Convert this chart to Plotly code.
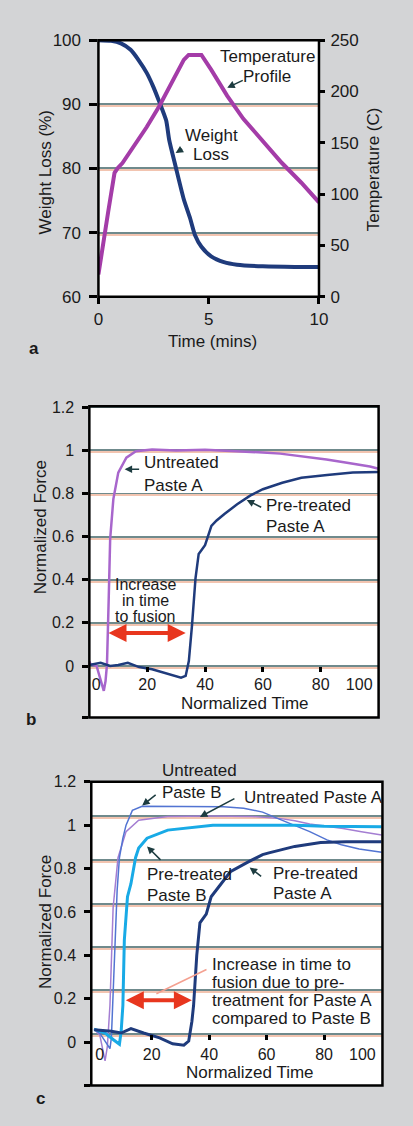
import plotly.graph_objects as go

# ---------------- data ----------------
# panel a
wl_time = [0, 0.58, 1.02, 1.46, 1.82, 2.19, 2.48, 2.77, 3.07, 3.21, 3.5, 3.87, 4.16, 4.38, 4.67, 5.11, 5.69, 6.28, 7.45, 8.9, 10]
wl_value = [100, 99.9, 99.5, 98.5, 96.9, 94.9, 92.8, 90.3, 87.5, 84.4, 80.3, 75.2, 72.2, 69.6, 67.8, 66.3, 65.4, 65.0, 64.75, 64.65, 64.65]
temp_time = [0, 0.15, 0.44, 0.73, 0.88, 1.09, 1.61, 2.19, 2.77, 3.36, 3.87, 4.09, 4.67, 5.11, 5.84, 6.57, 7.45, 8.32, 9.2, 10]
temp_value = [21.7, 44.1, 82.4, 120.7, 125.5, 130.3, 146.2, 165.4, 186.1, 210.1, 230.8, 235.6, 235.6, 221.3, 195.7, 173.4, 151.0, 130.3, 111.1, 92.0]
a_left_ticks = [60, 70, 80, 90, 100]
a_right_ticks = [0, 50, 100, 150, 200, 250]
a_x_ticks = [0, 5, 10]

# panel b
b_untreated_A_t = [0, 0.5, 2.5, 3.8, 5.0, 5.6, 6.1, 6.7, 7.2, 8.3, 10, 12.8, 16.1, 21.7, 30, 40, 50, 60, 66, 71, 76, 82, 88, 93, 97, 100]
b_untreated_A_v = [0.02, 0.007, 0.0, -0.06, -0.115, -0.07, 0.007, 0.314, 0.59, 0.774, 0.897, 0.966, 0.996, 1.004, 1.0, 1.003, 0.998, 0.99, 0.985, 0.977, 0.968, 0.958, 0.945, 0.935, 0.925, 0.915]
b_pretreated_A_t = [0, 3.9, 7.2, 10, 13.3, 17.2, 21.7, 27.2, 31.7, 33.3, 34.4, 35.5, 36.7, 37.8, 40, 42.2, 44, 46.7, 51.1, 55.6, 60, 66.7, 73.3, 82.2, 91.1, 100]
b_pretreated_A_v = [0.005, 0.015, 0.0, 0.005, 0.015, -0.005, -0.015, -0.038, -0.054, -0.046, 0.023, 0.19, 0.406, 0.52, 0.56, 0.65, 0.675, 0.705, 0.75, 0.79, 0.82, 0.85, 0.873, 0.886, 0.897, 0.9]

# panel c
c_untreated_B_t = [0, 2, 3.5, 5.5, 6.0, 6.6, 7.2, 8.0, 8.8, 10, 11.1, 13.3, 16.7, 25, 35, 45, 52, 58.6, 64, 69.8, 75, 81, 86, 92.2, 100]
c_untreated_B_v = [0.06, 0.04, 0.01, -0.03, 0.02, 0.25, 0.47, 0.7, 0.85, 0.94, 1.0, 1.068, 1.087, 1.087, 1.087, 1.085, 1.078, 1.06, 1.03, 1.0, 0.97, 0.932, 0.91, 0.89, 0.875]
c_untreated_A_t = [0, 2, 3.8, 4.6, 5.5, 6.6, 8.3, 11.1, 15.5, 25.6, 40, 55, 65, 69.8, 75, 81, 86.6, 93, 100]
c_untreated_A_v = [0.06, 0.03, -0.086, -0.02, 0.17, 0.62, 0.85, 0.97, 1.023, 1.04, 1.042, 1.04, 1.03, 1.02, 1.005, 0.995, 0.985, 0.97, 0.955]
c_pretreated_B_t = [0, 3.8, 6.6, 8.8, 9.4, 10, 10.5, 11.6, 12.8, 14.4, 15.5, 18.4, 25.6, 34.6, 41.3, 50, 60, 70, 80, 90, 100]
c_pretreated_B_v = [0.06, 0.042, 0.012, -0.01, 0.05, 0.17, 0.47, 0.67, 0.73, 0.85, 0.895, 0.94, 0.977, 0.992, 1.0, 1.0, 1.0, 1.0, 0.995, 0.995, 0.992]
c_pretreated_A_t = [0, 6, 9.4, 12.8, 17.2, 22.8, 27.3, 31.2, 32.9, 34, 34.6, 35.7, 36.8, 39, 40.7, 47.4, 54.1, 58.6, 60.8, 69.8, 78.8, 87.7, 100]
c_pretreated_A_v = [0.057, 0.05, 0.042, 0.062, 0.042, 0.02, -0.008, -0.014, 0.005, 0.095, 0.17, 0.40, 0.55, 0.59, 0.67, 0.785, 0.834, 0.864, 0.872, 0.902, 0.92, 0.924, 0.924]

force_ticks = [0, 0.2, 0.4, 0.6, 0.8, 1.0, 1.2]
force_labels = ["0", "0.2", "0.4", "0.6", "0.8", "1", "1.2"]
time_ticks = [20, 40, 60, 80]
time_labels = ["0", "20", "40", "60", "80", "100"]
c_grid = [0.038, 0.238, 0.438, 0.638, 0.838, 1.04]

# ---------------- styling ----------------
W, H = 413, 1126
FONT = "Liberation Sans, Arial, sans-serif"
TXT = "#1a1a1a"
GRID = "#6f8a8c"
FRINGE = "#f2c4b0"
NAVY = "#1f3b7c"
MAGENTA = "#a43ca8"
LILAC = "#a866cc"
CYAN = "#18aae6"
BLUE = "#5274d2"
PURPLE_T = "#a47ed2"
RED = "#e8361e"
ARW = "#1d3c40"

def X(p):
    return p / W

def Y(p):
    return 1 - p / H

dom_a_x = [X(96.7), X(325)]
dom_a_y = [Y(292.7), Y(31.7)]
dom_b_x = [X(87.3), X(386.7)]
dom_b_y = [Y(720.7), Y(404)]
dom_c_x = [X(89.3), X(390.7)]
dom_c_y = [Y(1095), Y(786)]

rng_a_y = [60, 100]
rng_b_y = [-0.239, 1.205]
rng_c_y = [-0.2, 1.2]
rng_b_x = [0, 100]
rng_c_x = [-1, 100.3]

def pos_of(val, dom, rng):
    return dom[0] + (val - rng[0]) / (rng[1] - rng[0]) * (dom[1] - dom[0])

def px_to_units(px, dom, rng):
    return px / ((dom[1] - dom[0]) * H) * (rng[1] - rng[0])

b_xpos = pos_of(0, dom_b_y, rng_b_y)
c_xpos = pos_of(0.038, dom_c_y, rng_c_y)

# fringe (mis-registered print) lines just under each inner gridline
fa = px_to_units(2, dom_a_y, rng_a_y)
fb = px_to_units(2, dom_b_y, rng_b_y)
fc = px_to_units(2, dom_c_y, rng_c_y)

fig = go.Figure()

def ghost(xa, ya):
    fig.add_trace(go.Scatter(x=[None], y=[None], xaxis=xa, yaxis=ya, showlegend=False, hoverinfo="skip"))

ghost("x", "y7")
ghost("x3", "y8")
ghost("x5", "y9")
ghost("x5", "y6")

# panel a
fig.add_trace(go.Scatter(x=wl_time, y=wl_value, mode="lines", line=dict(color=NAVY, width=4, shape="spline", smoothing=0.6),
                         xaxis="x", yaxis="y", showlegend=False, hoverinfo="skip"))
fig.add_trace(go.Scatter(x=temp_time, y=temp_value, mode="lines", line=dict(color=MAGENTA, width=4),
                         xaxis="x", yaxis="y2", showlegend=False, hoverinfo="skip"))
# panel b
fig.add_trace(go.Scatter(x=b_untreated_A_t, y=b_untreated_A_v, mode="lines", line=dict(color=LILAC, width=2.5),
                         xaxis="x3", yaxis="y3", showlegend=False, hoverinfo="skip"))
fig.add_trace(go.Scatter(x=b_pretreated_A_t, y=b_pretreated_A_v, mode="lines", line=dict(color=NAVY, width=2.5),
                         xaxis="x3", yaxis="y3", showlegend=False, hoverinfo="skip"))
ghost("x4", "y3")
# panel c
fig.add_trace(go.Scatter(x=c_untreated_A_t, y=c_untreated_A_v, mode="lines", line=dict(color=PURPLE_T, width=1.5),
                         xaxis="x5", yaxis="y5", showlegend=False, hoverinfo="skip"))
fig.add_trace(go.Scatter(x=c_untreated_B_t, y=c_untreated_B_v, mode="lines", line=dict(color=BLUE, width=1.5),
                         xaxis="x5", yaxis="y5", showlegend=False, hoverinfo="skip"))
fig.add_trace(go.Scatter(x=c_pretreated_B_t, y=c_pretreated_B_v, mode="lines", line=dict(color=CYAN, width=3),
                         xaxis="x5", yaxis="y5", showlegend=False, hoverinfo="skip"))
fig.add_trace(go.Scatter(x=c_pretreated_A_t, y=c_pretreated_A_v, mode="lines", line=dict(color=NAVY, width=3),
                         xaxis="x5", yaxis="y5", showlegend=False, hoverinfo="skip"))
ghost("x6", "y5")

tickcommon = dict(ticks="outside", tickcolor="black", tickwidth=2.5, showline=False, zeroline=False)
gridonly = dict(showticklabels=False, ticks="", showgrid=True, zeroline=False, showline=False)

layout = dict(
    width=W, height=H, margin=dict(l=0, r=0, t=0, b=0),
    paper_bgcolor="#d3d4d6", plot_bgcolor="#ffffff",
    font=dict(family=FONT, color=TXT, size=16),
    showlegend=False,
    # panel a
    xaxis=dict(domain=dom_a_x, range=[0, 10], anchor="y", tickvals=a_x_ticks, ticklen=6, showgrid=False,
               tickfont=dict(size=17), ticklabelstandoff=1, **tickcommon),
    yaxis=dict(domain=dom_a_y, range=rng_a_y, anchor="x", tickvals=a_left_ticks, ticklen=8, showgrid=True,
               gridcolor=GRID, gridwidth=2, tickfont=dict(size=17), ticklabelstandoff=5, **tickcommon),
    yaxis2=dict(range=[0, 250], overlaying="y", side="right", anchor="x", tickvals=a_right_ticks, ticklen=5,
                showgrid=False, tickfont=dict(size=17), ticklabelstandoff=2, **tickcommon),
    yaxis7=dict(range=rng_a_y, overlaying="y", anchor="x", tickvals=[v - fa for v in a_left_ticks[1:-1]],
                gridcolor=FRINGE, gridwidth=1.5, **gridonly),
    # panel b
    xaxis3=dict(domain=dom_b_x, range=rng_b_x, anchor="free", position=b_xpos, tickvals=time_ticks, ticklen=5,
                showticklabels=False, showgrid=False, **tickcommon),
    xaxis4=dict(range=rng_b_x, overlaying="x3", anchor="free", position=b_xpos,
                tickvals=[2.4, 20, 40, 60, 80, 93.3], ticktext=time_labels, ticks="", ticklabelstandoff=7,
                showgrid=False, showline=False, zeroline=False, tickfont=dict(size=16)),
    yaxis3=dict(domain=dom_b_y, range=rng_b_y, anchor="x3", tickvals=[rng_b_y[0]] + force_ticks,
                ticktext=[""] + force_labels, ticklen=6, showgrid=True, gridcolor=GRID, gridwidth=2,
                tickfont=dict(size=16), ticklabelstandoff=5, **tickcommon),
    yaxis8=dict(range=rng_b_y, overlaying="y3", anchor="x3", tickvals=[v - fb for v in force_ticks[:-1]],
                gridcolor=FRINGE, gridwidth=1.5, **gridonly),
    # panel c
    xaxis5=dict(domain=dom_c_x, range=rng_c_x, anchor="free", position=c_xpos, tickvals=time_ticks, ticklen=5,
                showticklabels=False, showgrid=False, **tickcommon),
    xaxis6=dict(range=rng_c_x, overlaying="x5", anchor="free", position=c_xpos,
                tickvals=[1.9, 20, 40, 60, 80, 93.3], ticktext=time_labels, ticks="", ticklabelstandoff=9,
                showgrid=False, showline=False, zeroline=False, tickfont=dict(size=16)),
    yaxis5=dict(domain=dom_c_y, range=rng_c_y, anchor="x5", tickvals=[rng_c_y[0]] + force_ticks,
                ticktext=[""] + force_labels, ticklen=6, showgrid=False,
                tickfont=dict(size=16), ticklabelstandoff=5, **tickcommon),
    yaxis6=dict(range=rng_c_y, overlaying="y5", anchor="x5", tickvals=c_grid, gridcolor=GRID, gridwidth=2,
                **gridonly),
    yaxis9=dict(range=rng_c_y, overlaying="y5", anchor="x5", tickvals=[v - fc for v in c_grid],
                gridcolor=FRINGE, gridwidth=1.5, **gridonly),
)
fig.update_layout(**layout)

# frames
for xr, yr in [("x", "y"), ("x3", "y3"), ("x5", "y5")]:
    fig.add_shape(type="rect", xref=xr + " domain", yref=yr + " domain", x0=0, x1=1, y0=0, y1=1,
                  line=dict(color="black", width=2.5), layer="above")

ann = []

def text(s, px, py, anchor="left", size=17, bold=False):
    ann.append(dict(text=("<b>%s</b>" % s) if bold else s, x=X(px), y=Y(py), xref="paper", yref="paper",
                    xanchor=anchor, yanchor="middle", showarrow=False,
                    font=dict(size=size, family=FONT, color=TXT)))

def vtext(s, px, py, size=17):
    ann.append(dict(text=s, x=X(px), y=Y(py), xref="paper", yref="paper", xanchor="center", yanchor="middle",
                    showarrow=False, textangle=-90, font=dict(size=size, family=FONT, color=TXT)))

def pointer(xr, yr, x, y, dx, dy, color=ARW, width=1.5, head=2, size=1.0):
    ann.append(dict(text="", x=x, y=y, xref=xr, yref=yr, ax=dx, ay=dy, axref="pixel", ayref="pixel",
                    showarrow=True, arrowhead=head, arrowsize=size, arrowwidth=width, arrowcolor=color))

def double_arrow(xr, yr, x0, x1, y):
    ann.append(dict(text="", x=x1, y=y, ax=x0, ay=y, xref=xr, yref=yr, axref=xr, ayref=yr, showarrow=True,
                    arrowhead=2, arrowside="end+start", arrowsize=0.9, arrowwidth=4, arrowcolor=RED))

# panel a texts
text("Temperature", 271.7, 48.3, "center")
text("Profile", 271.7, 68.3, "center")
text("Weight", 213.3, 128.3, "center")
text("Loss", 213.3, 148.3, "center")
pointer("x", "y2", 5.84, 203.7, 17, -8)
pointer("x", "y", 3.5, 82.4, 8, -5)
vtext("Weight Loss (%)", 42, 166.7)
vtext("Temperature (C)", 381.7, 163.3)
text("Time (mins)", 215, 338, "center")
text("a", 30, 345, "center", size=17, bold=True)

# panel b texts
text("Untreated", 141.7, 461.7)
text("Paste A", 141.7, 485)
pointer("x3", "y3", 12.2, 0.912, 16, 0)
text("Pre-treated", 268.3, 505)
text("Paste A", 268.3, 526.7)
pointer("x3", "y3", 54.4, 0.77, 16, 8)
text("Increase", 145, 585.5, "center", size=16)
text("in time", 145, 601.5, "center", size=16)
text("to fusion", 145, 617.5, "center", size=16)
double_arrow("x3", "y3", 6.1, 33.3, 0.153)
vtext("Normalized Force", 36.7, 526.7)
text("Normalized Time", 248.3, 706.7, "center")
text("b", 26.7, 723, "center", size=17, bold=True)

# panel c texts
text("Untreated", 160, 775)
text("Paste B", 160, 796.7)
pointer("x5", "y5", 16.7, 1.09, 15, -12)
text("Untreated Paste A", 245, 802.3)
pointer("x5", "y5", 36.8, 1.038, 36, -19)
text("Pre-treated", 145, 880)
text("Paste B", 145, 901.7)
pointer("x5", "y5", 18.4, 0.902, 15, 15)
text("Pre-treated", 275, 879.3)
text("Paste A", 275, 900)
pointer("x5", "y5", 54.1, 0.805, 13, 10)
for i, s in enumerate(["Increase in time to", "fusion due to pre-", "treatment for Paste A", "compared to Paste B"]):
    text(s, 211.7, 971.7 + i * 18.3)
ann.append(dict(text="", x=X(156.7), y=Y(1001.7), xref="paper", yref="paper", ax=51.6, ay=-25, axref="pixel",
                ayref="pixel", showarrow=True, arrowhead=0, arrowwidth=1.5, arrowcolor="#f4a090"))
double_arrow("x5", "y5", 10.5, 34.0, 0.193)
vtext("Normalized Force", 41.7, 928.3)
text("Normalized Time", 253.3, 1081.7, "center")
text("c", 36.7, 1108, "center", size=17, bold=True)

fig.update_layout(annotations=ann)
fig.write_html("out.html")
